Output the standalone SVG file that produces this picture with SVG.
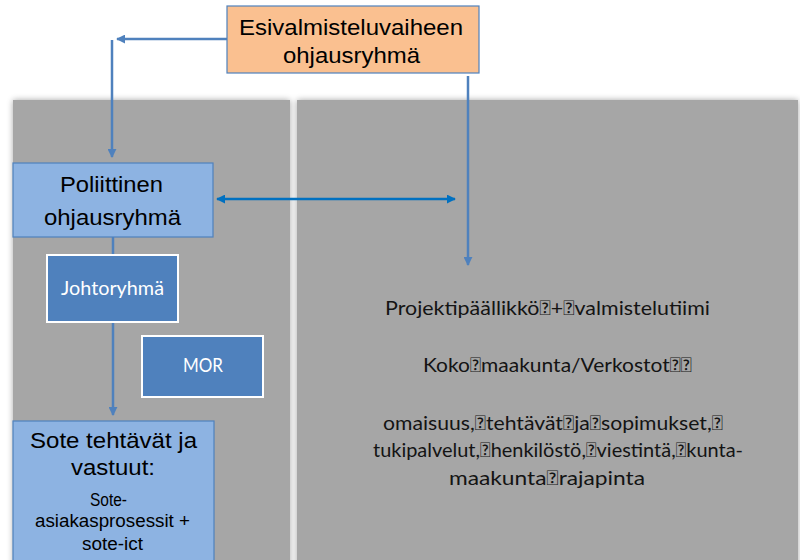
<svg xmlns="http://www.w3.org/2000/svg" width="800" height="560" viewBox="0 0 800 560">
<defs>
<style>
.arial{font-family:"Liberation Sans",Arial,sans-serif;fill:#000;text-anchor:middle}
.big{font-size:22px}
.small{font-size:17.5px}
.cal{font-family:Lato,"Open Sans",sans-serif;font-size:19px;fill:#fff;text-anchor:middle}
.panel{fill:#a6a6a6}
.lb{fill:#8db3e2;stroke:#4f81bd;stroke-width:1.2}
.db{fill:#4f81bd;stroke:#fff;stroke-width:2}
.conn{stroke:#4f81bd;stroke-width:2.5;fill:none}
.conn2{stroke:#0070c0;stroke-width:2.5;fill:none}
.rt{font-family:Lato,"Open Sans",sans-serif;font-size:20px;fill:#141414}
</style>
<filter id="sh" x="-5%" y="-5%" width="110%" height="110%">
<feGaussianBlur in="SourceAlpha" stdDeviation="3"/>
<feComponentTransfer><feFuncA type="linear" slope="0.35"/></feComponentTransfer>
<feMerge><feMergeNode/><feMergeNode in="SourceGraphic"/></feMerge>
</filter>
<marker id="ab" viewBox="0 0 10 10" refX="9" refY="5" markerWidth="3.6" markerHeight="3.6" orient="auto-start-reverse"><path d="M0,0 L10,5 L0,10 z" fill="#4f81bd"/></marker>
<marker id="ab2" viewBox="0 0 10 10" refX="9" refY="5" markerWidth="3.6" markerHeight="3.6" orient="auto-start-reverse"><path d="M0,0 L10,5 L0,10 z" fill="#0070c0"/></marker>
</defs>
<rect width="800" height="560" fill="#fff"/>
<g id="panels" filter="url(#sh)">
<rect class="panel" x="13" y="100" width="277" height="470"/>
<rect class="panel" x="297" y="100" width="501" height="470"/>
</g>
<g id="connectors">
<path class="conn" d="M227,39 H117" marker-end="url(#ab)"/>
<path class="conn" d="M112,40 V157" marker-end="url(#ab)"/>
<path class="conn" d="M468,76 V265" marker-end="url(#ab)"/>
<path class="conn2" d="M217,199 H455" marker-start="url(#ab2)" marker-end="url(#ab2)"/>
<path class="conn" d="M113,237 V415" marker-end="url(#ab)"/>
</g>
<g id="esival">
<rect x="227" y="6" width="252" height="67" fill="#fac090" stroke="#4f81bd" stroke-width="1.2"/>
<text class="arial big" x="351" y="35" textLength="224" lengthAdjust="spacingAndGlyphs">Esivalmisteluvaiheen</text>
<text class="arial big" x="351.5" y="63" textLength="137" lengthAdjust="spacingAndGlyphs">ohjausryhmä</text>
</g>
<g id="poliittinen">
<rect class="lb" x="13" y="163" width="200" height="74"/>
<text class="arial big" x="111.5" y="192" textLength="103" lengthAdjust="spacingAndGlyphs">Poliittinen</text>
<text class="arial big" x="112.5" y="225" textLength="137" lengthAdjust="spacingAndGlyphs">ohjausryhmä</text>
</g>
<g id="johtoryhma">
<rect class="db" x="47" y="255" width="131" height="67"/>
<text class="cal" x="112.5" y="295" textLength="103" lengthAdjust="spacingAndGlyphs">Johtoryhmä</text>
</g>
<g id="mor">
<rect class="db" x="142" y="336" width="121" height="61"/>
<text class="cal" x="203" y="372" textLength="40" lengthAdjust="spacingAndGlyphs">MOR</text>
</g>
<g id="sote">
<rect class="lb" x="13" y="421" width="201" height="150"/>
<text class="arial big" x="113.5" y="448" textLength="167" lengthAdjust="spacingAndGlyphs">Sote tehtävät ja</text>
<text class="arial big" x="113" y="475" textLength="84" lengthAdjust="spacingAndGlyphs">vastuut:</text>
<text class="arial small" x="108.5" y="506" textLength="37" lengthAdjust="spacingAndGlyphs">Sote-</text>
<text class="arial small" x="112.5" y="527" textLength="155" lengthAdjust="spacingAndGlyphs">asiakasprosessit +</text>
<text class="arial small" x="112.5" y="550" textLength="61" lengthAdjust="spacingAndGlyphs">sote-ict</text>
</g>
<g id="projekti">
<text class="rt" x="385" y="315" textLength="325" lengthAdjust="spacingAndGlyphs">Projektipäällikkö&#xF020;+&#xF020;valmistelutiimi</text>
<text class="rt" x="423" y="372" textLength="269" lengthAdjust="spacingAndGlyphs">Koko&#xF020;maakunta/Verkostot&#xF020;&#xF020;</text>
<text class="rt" x="383" y="430" textLength="340" lengthAdjust="spacingAndGlyphs">omaisuus,&#xF020;tehtävät&#xF020;ja&#xF020;sopimukset,&#xF020;</text>
<text class="rt" x="373" y="457" textLength="370" lengthAdjust="spacingAndGlyphs">tukipalvelut,&#xF020;henkilöstö,&#xF020;viestintä,&#xF020;kunta-</text>
<text class="rt" x="449" y="485" textLength="196" lengthAdjust="spacingAndGlyphs">maakunta&#xF020;rajapinta</text>
</g>
</svg>
